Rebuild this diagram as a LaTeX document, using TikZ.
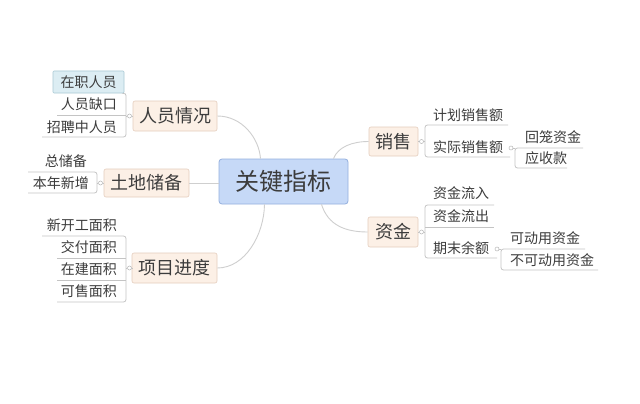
\documentclass[tikz,border=0pt]{standalone}
\usepackage{fontspec}
\setmainfont{Noto Sans CJK SC}
\definecolor{txt}{HTML}{3C3C3C}
\definecolor{cenf}{HTML}{C6D9F7}
\definecolor{cenb}{HTML}{94B0DE}
\definecolor{topf}{HTML}{FCF0E6}
\definecolor{topb}{HTML}{E5CDBD}
\definecolor{zzf}{HTML}{DCEDF3}
\definecolor{zzb}{HTML}{A9C9D4}
\definecolor{lnc}{HTML}{CFCFCF}
\definecolor{ulc}{HTML}{C4C4C4}
\definecolor{jcc}{HTML}{B5B5B5}
\begin{document}
\begin{tikzpicture}[x=1pt,y=-1pt,
 every node/.style={text=txt},
 central/.style={draw=cenb, fill=cenf, rounded corners=3pt, line width=0.8pt, minimum width=129pt, minimum height=45pt, inner sep=0pt, font=\fontsize{24}{28}\selectfont},
 topic/.style={draw=topb, fill=topf, rounded corners=2pt, line width=0.6pt, minimum height=30pt, inner sep=0pt, font=\fontsize{18}{22}\selectfont},
 sub/.style={inner sep=0pt, font=\fontsize{14}{16}\selectfont},
 conn/.style={draw=lnc, line width=0.9pt},
 ul/.style={draw=ulc, line width=0.8pt, rounded corners=2.5pt},
 jc/.style={circle, draw=jcc, fill=white, line width=0.5pt, minimum size=4pt, inner sep=0pt},
]
\useasboundingbox[fill=white] (0,0) rectangle (640,404);

% central and main topics
\node[central] (c) at (283.5,181.5) {关键指标};
\node[topic, minimum width=84pt] (t1) at (175,116) {人员情况};
\node[topic, minimum width=85pt, minimum height=28pt] (t2) at (146.5,183) {土地储备};
\node[topic, minimum width=85pt] (t3) at (174.5,268) {项目进度};
\node[topic, minimum width=49pt, minimum height=29pt] (t4) at (393.5,141.5) {销售};
\node[topic, minimum width=50pt] (t5) at (393,232) {资金};

% main connectors
\draw[conn] ([xshift=-23pt]c.north) .. controls (259,138) and (242,116) .. (t1.east);
\draw[conn] (t2.east -| c.west) -- (t2.east);
\draw[conn] ([xshift=-19pt]c.south) .. controls (264,235) and (245,268) .. (t3.east);
\draw[conn] ([xshift=50pt]c.north) .. controls (338,147) and (352,141.5) .. (t4.west);
\draw[conn] ([xshift=38pt]c.south) .. controls (328,225) and (345,232) .. (t5.west);

% group 1: 人员情况
\node[sub, draw=zzb, fill=zzf, line width=0.6pt, minimum width=71pt, minimum height=22pt, rounded corners=1pt] (a1) at (88.5,82) {在职人员};
\node[sub, anchor=east] (a2) at (117,104) {人员缺口};
\node[sub, anchor=east] (a3) at (117,127) {招聘中人员};
\draw[ul] (a1.south east) -- (126,93) -- (126,137) -- (42,137);
\draw[ul] (57,115) -- (126,115);
\node[jc] (j1) at (129.5,116) {};
\draw[ul] (126,116) -- (j1) -- (t1.west);

% group 2: 土地储备
\node[sub, anchor=east] (b1) at (87,161) {总储备};
\node[sub, anchor=east] (b2) at (89,183) {本年新增};
\draw[ul] (28,172) -- (97,172) -- (97,193) -- (28,193);
\node[jc] (j2) at (100.5,183) {};
\draw[ul] (97,183) -- (j2) -- (t2.west);

% group 3: 项目进度
\node[sub, anchor=east] (g1) at (117,225) {新开工面积};
\node[sub, anchor=east] (g2) at (117,247) {交付面积};
\node[sub, anchor=east] (g3) at (117,269) {在建面积};
\node[sub, anchor=east] (g4) at (117,291) {可售面积};
\draw[ul] (42,236) -- (126,236) -- (126,302) -- (57,302);
\draw[ul] (57,258) -- (126,258);
\draw[ul] (57,280) -- (126,280);
\node[jc] (j3) at (129.5,268) {};
\draw[ul] (126,268) -- (j3) -- (t3.west);

% group 4: 销售
\node[jc] (j4) at (421.5,141.5) {};
\draw[ul] (t4.east) -- (j4) -- (425,141.5);
\node[sub, anchor=west] (d1) at (433,115) {计划销售额};
\node[sub, anchor=west] (d2) at (433,147) {实际销售额};
\draw[ul] (508,125) -- (425,125) -- (425,157) -- (510,157);
\node[jc] (j5) at (511,148) {};
\node[sub, anchor=west] (e1) at (525,137) {回笼资金};
\node[sub, anchor=west] (e2) at (525,158) {应收款};
\draw[ul] (j5) -- (515,148);
\draw[ul] (583,148) -- (515,148) -- (515,168) -- (567,168);

% group 5: 资金
\node[jc] (j6) at (421.5,232) {};
\draw[ul] (t5.east) -- (j6) -- (425,232);
\node[sub, anchor=west] (f1) at (433,193) {资金流入};
\node[sub, anchor=west] (f2) at (433,216) {资金流出};
\node[sub, anchor=west] (f3) at (433,248) {期末余额};
\draw[ul] (494,205) -- (425,205) -- (425,258) -- (497,258);
\draw[ul] (425,227) -- (494,227);
\node[jc] (j7) at (497,249) {};
\node[sub, anchor=west] (h1) at (510,238) {可动用资金};
\node[sub, anchor=west] (h2) at (510,260) {不可动用资金};
\draw[ul] (j7) -- (501,249);
\draw[ul] (585,249) -- (501,249) -- (501,270) -- (598,270);
\end{tikzpicture}
\end{document}
